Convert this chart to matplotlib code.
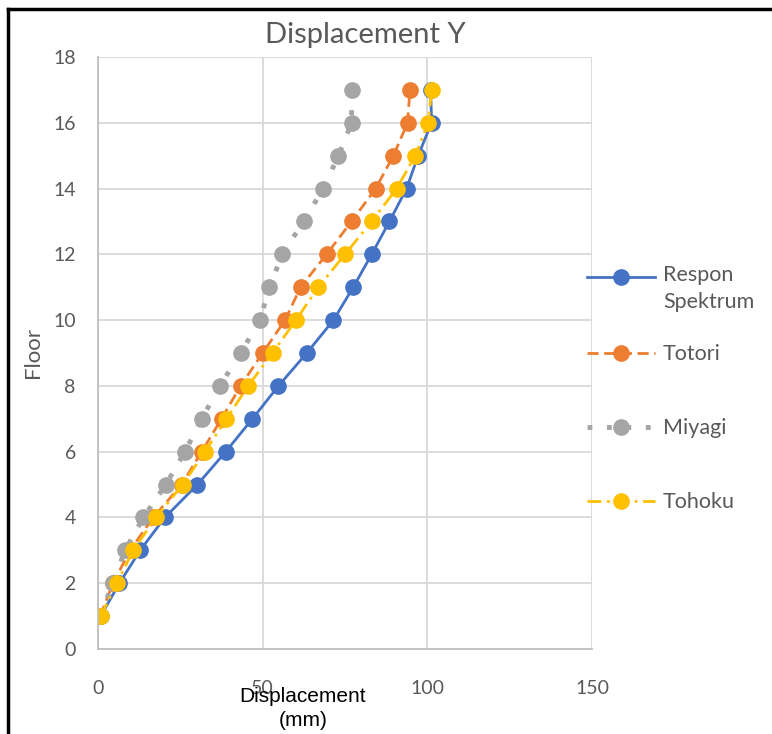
import matplotlib
matplotlib.use("Agg")
from matplotlib import pyplot as plt
from matplotlib.lines import Line2D

floors = list(range(1, 18))

respon = [0.8, 6.5, 12.8, 20.3, 30.2, 38.8, 46.9, 54.8, 63.4, 71.5, 77.5, 83.1, 88.5, 93.7, 97.2, 101.3, 101.0]
totori = [0.6, 4.6, 9.7, 16.8, 25.4, 31.5, 37.5, 43.3, 50.0, 56.8, 61.5, 69.4, 77.0, 84.3, 89.7, 94.0, 94.7]
miyagi = [0.6, 4.5, 8.2, 13.8, 20.6, 26.4, 31.5, 37.0, 43.3, 49.2, 52.0, 56.0, 62.4, 68.4, 73.0, 77.0, 77.0]
tohoku = [0.8, 5.7, 10.7, 17.6, 25.7, 32.5, 39.0, 45.6, 53.0, 60.1, 66.9, 75.0, 83.1, 90.7, 96.3, 100.3, 101.3]

nama = ["Respon\nSpektrum", "Totori", "Miyagi", "Tohoku"]
warna = ["#4472C4", "#ED7D31", "#A5A5A5", "#FFC000"]
gaya = [dict(lw=2, ls='-'),
        dict(lw=2, ls=(0, (4, 2))),
        dict(lw=3.5, ls=(0, (1, 3)), dash_capstyle='butt'),
        dict(lw=2, ls=(0, (5, 2, 1, 2)))]

abu = "#595959"
plt.rcParams['font.family'] = ['Lato', 'DejaVu Sans']

fig = plt.figure(figsize=(7.72, 7.34), dpi=100)
ax = fig.add_axes([98/772, 1-649/734, 494/772, 592/734])

semua = [respon, totori, miyagi, tohoku]
for data, c, g, n in zip(semua, warna, gaya, nama):
    ax.plot(data, floors, color=c, marker='o', ms=11, label=n, **g)

ax.set_xlim(0, 150)
ax.set_ylim(0, 18)
ax.set_xticks([0, 50, 100, 150])
ax.set_yticks(range(0, 19, 2))
ax.grid(True, color="#d9d9d9", lw=1.3)
ax.set_axisbelow(True)
for s in ["top", "right"]:
    ax.spines[s].set_visible(False)
for s in ["left", "bottom"]:
    ax.spines[s].set_color("#bfbfbf")
    ax.spines[s].set_linewidth(1.3)
ax.tick_params(length=0, labelsize=14, colors=abu)
ax.tick_params(axis='y', pad=16)
ax.tick_params(axis='x', pad=22)

fig.text(365/772, 1-35/734, "Displacement Y", ha='center', va='center', fontsize=21, color=abu)
ax.set_ylabel("Floor", fontsize=16, color=abu, labelpad=7)
narrow = ['Liberation Sans Narrow', 'Liberation Sans', 'DejaVu Sans']
fig.text(303/772, 1-697/734, "Displacement", ha='center', va='center', fontsize=15,
         family=narrow, color='black')
fig.text(303/772, 1-720/734, "(mm)", ha='center', va='center', fontsize=15,
         family=narrow, color='black')

# legenda manual
leg_y = [277, 353, 427, 501]
for c, g, n, y in zip(warna, gaya, nama, leg_y):
    yy = 1 - y/734
    fig.add_artist(Line2D([587/772, 655/772], [yy, yy], color=c, **g))
    fig.add_artist(Line2D([621/772], [yy], color=c, marker='o', ms=11, ls='none'))
    if "\n" in n:
        fig.text(663/772, 1-265/734, n, ha='left', va='top', fontsize=15.5, color=abu,
                 linespacing=1.45)
    else:
        fig.text(663/772, yy - 1/734, n, ha='left', va='center', fontsize=15.5, color=abu)

# bingkai
fig.add_artist(Line2D([8/772, 8/772], [0, 1-9/734], color='black', lw=2.5))
fig.add_artist(Line2D([8/772, 1], [1-9/734, 1-9/734], color='black', lw=2.5))

fig.savefig("out.png", dpi=100)
